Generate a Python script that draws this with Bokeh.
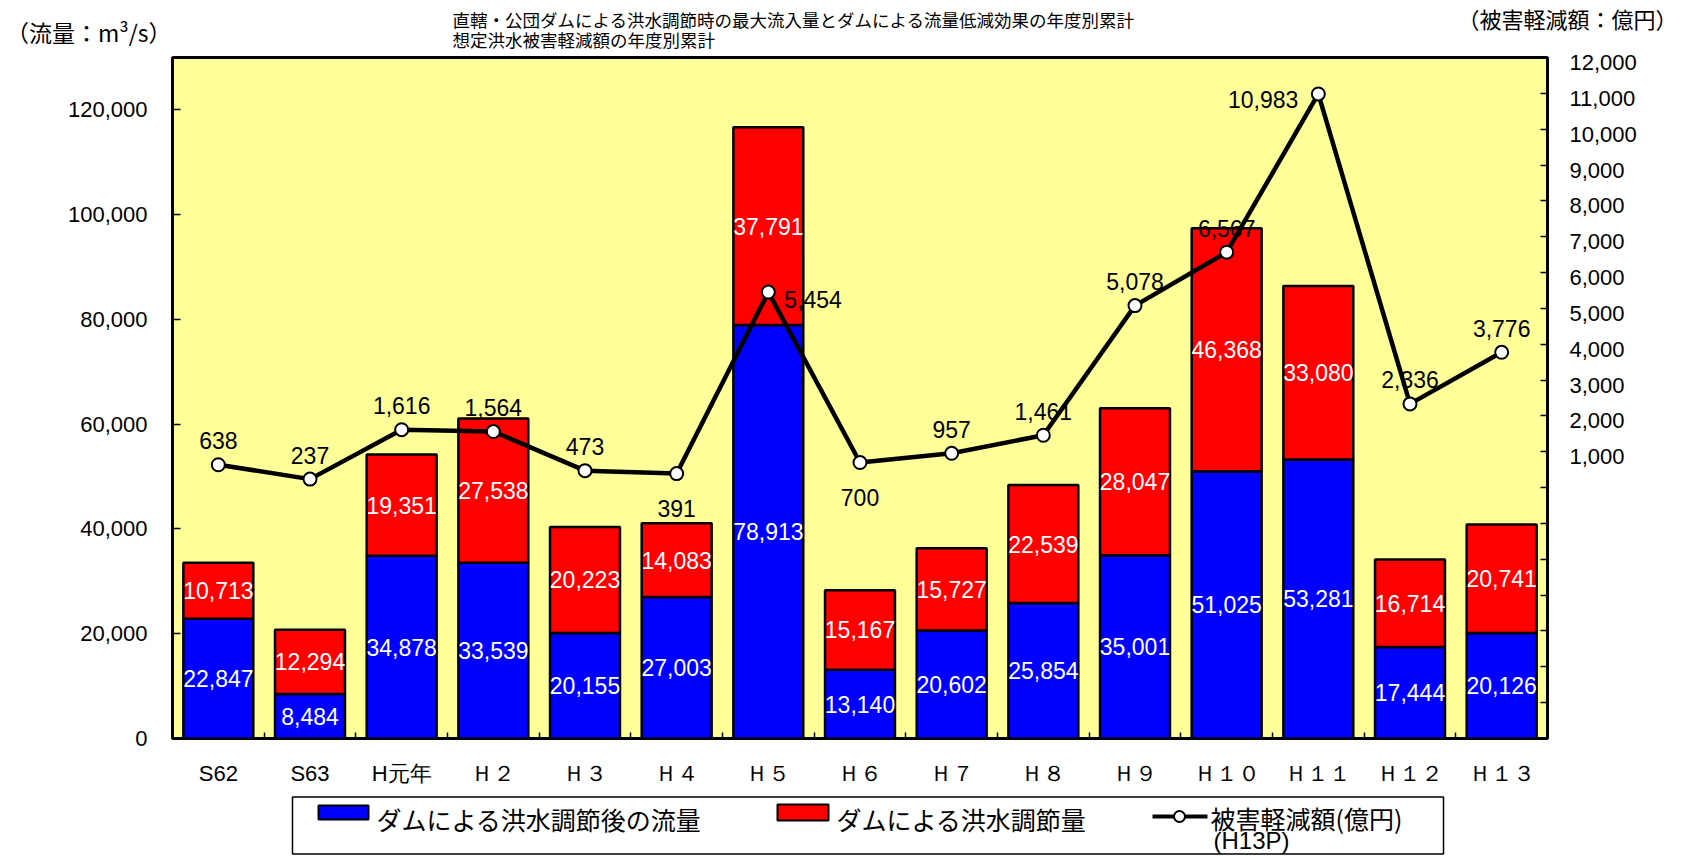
from bokeh.plotting import figure
from bokeh.layouts import column
from bokeh.models import (Range1d, LinearAxis, FixedTicker, NumeralTickFormatter,
                          ColumnDataSource)
from bokeh.core.properties import value
from bokeh.embed import file_html
from bokeh.resources import INLINE

# ---------------- data ----------------
categories = ["S62", "S63", "H元年", "Ｈ２", "Ｈ３", "Ｈ４", "Ｈ５", "Ｈ６", "Ｈ７",
              "Ｈ８", "Ｈ９", "Ｈ１０", "Ｈ１１", "Ｈ１２", "Ｈ１３"]
flow_after = [22847, 8484, 34878, 33539, 20155, 27003, 78913, 13140, 20602,
              25854, 35001, 51025, 53281, 17444, 20126]
flow_cut = [10713, 12294, 19351, 27538, 20223, 14083, 37791, 15167, 15727,
            22539, 28047, 46368, 33080, 16714, 20741]
damage = [638, 237, 1616, 1564, 473, 391, 5454, 700, 957, 1461, 5078, 6567,
          10983, 2336, 3776]
left_ticks = [0, 20000, 40000, 60000, 80000, 100000, 120000]
right_ticks = [1000, 2000, 3000, 4000, 5000, 6000, 7000, 8000, 9000, 10000, 11000, 12000]
right_minor = [-6000, -5000, -4000, -3000, -2000, -1000, 0]

title1 = "直轄・公団ダムによる洪水調節時の最大流入量とダムによる流量低減効果の年度別累計"
title2 = "想定洪水被害軽減額の年度別累計"
left_unit = "（流量：m³/s）"
right_unit = "（被害軽減額：億円）"
legend_labels = ["ダムによる洪水調節後の流量", "ダムによる洪水調節量", "被害軽減額(億円)"]
legend_sub = "(H13P)"

# label placement styles for the line values (pixels)
lab_dx = [0, 0, 0, 0, 0, 0, 16, 0, 0, 0, 0, 0, -20, 0, 0]
lab_dy = [-24, -24, -24, -24, -24, 35, 7, 35, -24, -24, -24, -24, 6, -24, -24]
lab_align = ["center"] * 6 + ["left"] + ["center"] * 5 + ["right"] + ["center"] * 2

# ---------------- derived ----------------
n = len(categories)
xs = [i + 0.5 for i in range(n)]
tops = [a + b for a, b in zip(flow_after, flow_cut)]

BLUE = "#0000FF"
RED = "#FF0000"
YELLOW = "#FFFF99"
NUMFONT = "Liberation Sans"
JPFONT = "Noto Sans CJK JP"

W = 1686
FL, FR = 172, 1547          # frame left / right (canvas)
H_HEAD = 51
MAIN_TOP = 57 - H_HEAD      # border above main frame
FRAME_H = 681
MAIN_BOTTOM = 56
H_MAIN = MAIN_TOP + FRAME_H + MAIN_BOTTOM
H_LEG = 856 - H_HEAD - H_MAIN

DMG_LO, DMG_HI = -7000, 12000
LABEL_SHIFT_PX = 5          # right-axis labels sit a little below their ticks
dmg_shift = LABEL_SHIFT_PX * (DMG_HI - DMG_LO) / FRAME_H

common = dict(output_backend="svg", toolbar_location=None,
              min_border_left=FL, min_border_right=W - FR)

# ---------------- header ----------------
hd = figure(width=W, height=H_HEAD, x_range=Range1d(FL, FR), y_range=Range1d(H_HEAD, 0),
            x_axis_location=None, y_axis_location=None,
            min_border_top=0, min_border_bottom=0, **common)
hd.outline_line_color = None
hd.grid.visible = False
hd.background_fill_color = "white"
hd.border_fill_color = "white"
hd.text(x=[452, 452], y=[19, 39], text=[title1, title2], text_font=value(JPFONT),
        text_font_size="17.5px", text_color="black", text_align="left",
        text_baseline="middle")

def unit_axis(txt, ypos, standoff, size, side):
    ax = LinearAxis(ticker=FixedTicker(ticks=[ypos]))
    ax.major_label_overrides = {ypos: txt}
    ax.major_tick_in = 0
    ax.major_tick_out = 0
    ax.minor_tick_in = 0
    ax.minor_tick_out = 0
    ax.axis_line_color = None
    ax.major_label_standoff = standoff
    ax.major_label_text_font = JPFONT
    ax.major_label_text_font_size = size
    ax.major_label_text_color = "black"
    hd.add_layout(ax, side)

unit_axis(left_unit, 37, 1, "23px", "left")
unit_axis(right_unit, 17, -90, "22px", "right")

# ---------------- main chart ----------------
p = figure(width=W, height=H_MAIN, x_range=Range1d(0, n), y_range=Range1d(0, 130000),
           min_border_top=MAIN_TOP, min_border_bottom=MAIN_BOTTOM, **common)
p.extra_y_ranges = {"dmg": Range1d(DMG_LO, DMG_HI),
                    "dmg_lab": Range1d(DMG_LO + dmg_shift, DMG_HI + dmg_shift)}
p.background_fill_color = YELLOW
p.border_fill_color = "white"
p.outline_line_color = "black"
p.outline_line_width = 3
p.grid.visible = False

xa = p.xaxis[0]
xa.ticker = FixedTicker(ticks=xs, minor_ticks=list(range(1, n)))
xa.major_label_overrides = {x: c for x, c in zip(xs, categories)}
xa.major_tick_in = 0
xa.major_tick_out = 0
xa.minor_tick_in = 6
xa.minor_tick_out = 0
xa.minor_tick_line_color = "black"
xa.minor_tick_line_width = 1.5
xa.axis_line_color = None
xa.major_label_standoff = 22
xa.major_label_text_font = NUMFONT
xa.major_label_text_font_size = "22px"
xa.major_label_text_color = "black"

ya = p.yaxis[0]
ya.ticker = FixedTicker(ticks=left_ticks)
ya.formatter = NumeralTickFormatter(format="0,0")
ya.major_tick_in = 8
ya.major_tick_out = 0
ya.major_tick_line_width = 1.5
ya.minor_tick_in = 0
ya.minor_tick_out = 0
ya.axis_line_color = None
ya.major_label_standoff = 25
ya.major_label_text_font = NUMFONT
ya.major_label_text_font_size = "22px"
ya.major_label_text_color = "black"

# right axis: tick marks
ra = LinearAxis(y_range_name="dmg",
                ticker=FixedTicker(ticks=right_ticks, minor_ticks=right_minor))
ra.major_label_overrides = {t: "" for t in right_ticks}
ra.major_label_standoff = 0
ra.major_tick_in = 7
ra.major_tick_out = 0
ra.minor_tick_in = 7
ra.minor_tick_out = 0
ra.major_tick_line_width = 1.5
ra.minor_tick_line_width = 1.5
ra.minor_tick_line_color = "black"
ra.axis_line_color = None
p.add_layout(ra, "right")

# right axis: tick labels
rl = LinearAxis(y_range_name="dmg_lab", ticker=FixedTicker(ticks=right_ticks),
                formatter=NumeralTickFormatter(format="0,0"))
rl.major_tick_in = 0
rl.major_tick_out = 0
rl.minor_tick_in = 0
rl.minor_tick_out = 0
rl.axis_line_color = None
rl.major_label_standoff = 22
rl.major_label_text_font = NUMFONT
rl.major_label_text_font_size = "22px"
rl.major_label_text_color = "black"
p.add_layout(rl, "right")

bw = 0.763
p.vbar(x=xs, width=bw, bottom=0, top=flow_after, fill_color=BLUE,
       line_color="black", line_width=2.5)
p.vbar(x=xs, width=bw, bottom=flow_after, top=tops, fill_color=RED,
       line_color="black", line_width=2.5)

p.text(x=xs, y=[a / 2 for a in flow_after], text=[f"{a:,}" for a in flow_after],
       text_color="white", text_font=value(NUMFONT), text_font_size="23px",
       text_align="center", text_baseline="middle")
p.text(x=xs, y=[a + b / 2 for a, b in zip(flow_after, flow_cut)],
       text=[f"{b:,}" for b in flow_cut],
       text_color="white", text_font=value(NUMFONT), text_font_size="23px",
       text_align="center", text_baseline="middle")

p.line(x=xs, y=damage, y_range_name="dmg", line_color="black", line_width=4.5)
p.scatter(x=xs, y=damage, y_range_name="dmg", marker="circle", size=13,
          fill_color="white", line_color="black", line_width=2)
src = ColumnDataSource(dict(x=xs, y=damage, t=[f"{d:,}" for d in damage],
                            dx=lab_dx, dy=lab_dy, al=lab_align))
p.text(x="x", y="y", text="t", x_offset="dx", y_offset="dy", text_align="al",
       source=src, y_range_name="dmg", text_color="black",
       text_font=value(NUMFONT), text_font_size="23px", text_baseline="middle")

# ---------------- legend ----------------
lg = figure(width=W, height=H_LEG, x_range=Range1d(FL, FR), y_range=Range1d(H_LEG, 0),
            x_axis_location=None, y_axis_location=None,
            min_border_top=0, min_border_bottom=0, **common)
lg.outline_line_color = None
lg.grid.visible = False
lg.background_fill_color = "white"
lg.border_fill_color = "white"

lg.quad(left=292, right=1443, top=2.5, bottom=59.5, fill_color=None,
        line_color="black", line_width=1.5)
lg.quad(left=[318, 777], right=[368, 828], top=[11, 10], bottom=[25, 26],
        fill_color=[BLUE, RED], line_color="black", line_width=2)
lg.line(x=[1152, 1207], y=[22, 22], line_color="black", line_width=4)
lg.scatter(x=[1179], y=[22], marker="circle", size=11, fill_color="white",
           line_color="black", line_width=2)
lg.text(x=[376, 836, 1210], y=[24, 24, 23], text=legend_labels,
        text_font=value(JPFONT), text_font_size="25px", text_color="black",
        text_baseline="middle", text_align="left")
lg.text(x=[1213], y=[46], text=[legend_sub], text_font=value(NUMFONT),
        text_font_size="24px", text_color="black", text_baseline="middle",
        text_align="left")

layout = column(hd, p, lg, spacing=0)
open("out.html", "w").write(file_html(layout, INLINE))
